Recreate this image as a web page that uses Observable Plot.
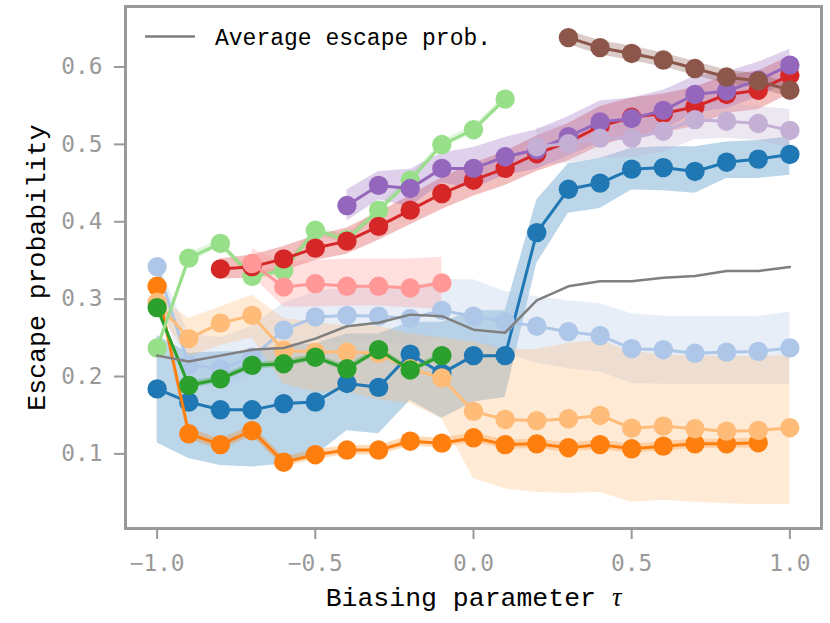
<!DOCTYPE html>
<html><head><meta charset="utf-8">
<script src="https://cdn.jsdelivr.net/npm/d3@7"></script>
<script src="https://cdn.jsdelivr.net/npm/@observablehq/plot@0.6"></script>
<style>
body{margin:0;background:#fff}
#chart{position:relative;width:830px;height:623px}
</style>
</head><body><div id="chart"></div><script>
// ---- data ----
const tau = [-1.0,-0.9,-0.8,-0.7,-0.6,-0.5,-0.4,-0.3,-0.2,-0.1,0.0,0.1,0.2,0.3,0.4,0.5,0.6,0.7,0.8,0.9,1.0];
const xTicks = [-1.0,-0.5,0.0,0.5,1.0];
const yTicks = [0.1,0.2,0.3,0.4,0.5,0.6];
const xLabel = "Biasing parameter τ";
const yLabel = "Escape probability";
const legendLabel = "Average escape prob.";

// tab:blue, starts at tau=-1.0
const blueMean = [0.184,0.167,0.157,0.157,0.165,0.167,0.191,0.186,0.229,0.204,0.227,0.227,0.386,0.442,0.450,0.468,0.470,0.465,0.477,0.481,0.487];
const blueLo   = [0.114,0.094,0.085,0.083,0.087,0.098,0.130,0.126,0.169,0.146,0.167,0.173,0.346,0.411,0.417,0.441,0.440,0.437,0.456,0.456,0.460];
const blueHi   = [0.253,0.230,0.232,0.232,0.240,0.242,0.255,0.255,0.270,0.270,0.285,0.285,0.428,0.475,0.482,0.495,0.497,0.497,0.503,0.505,0.510];
// light blue, starts at -1.0
const lightBlueMean = [0.342,0.215,0.210,0.225,0.260,0.277,0.279,0.278,0.275,0.2855,0.278,0.271,0.265,0.258,0.253,0.236,0.2347,0.230,0.2316,0.2325,0.237];
const lightBlueLo   = [0.310,0.190,0.185,0.200,0.225,0.245,0.245,0.245,0.240,0.250,0.245,0.230,0.217,0.210,0.206,0.191,0.190,0.190,0.190,0.190,0.190];
const lightBlueHi   = [0.350,0.255,0.250,0.265,0.295,0.310,0.315,0.315,0.315,0.325,0.325,0.310,0.303,0.298,0.294,0.281,0.278,0.278,0.278,0.278,0.283];
// orange, starts at -1.0 (ends 0.9)
const orangeMean = [0.3166,0.126,0.112,0.130,0.0893,0.099,0.105,0.105,0.1164,0.1139,0.1208,0.112,0.113,0.108,0.112,0.1066,0.110,0.113,0.113,0.1144];
const orangeLo   = [0.305,0.119,0.105,0.123,0.083,0.093,0.099,0.099,0.110,0.108,0.115,0.106,0.107,0.102,0.106,0.101,0.104,0.107,0.107,0.108];
const orangeHi   = [0.328,0.133,0.119,0.137,0.096,0.105,0.111,0.111,0.123,0.120,0.127,0.118,0.119,0.114,0.118,0.112,0.116,0.119,0.119,0.121];
// light orange, starts at -1.0
const lightOrangeMean = [0.296,0.249,0.269,0.279,0.2337,0.2316,0.2316,0.230,0.210,0.198,0.155,0.1445,0.143,0.1454,0.1497,0.1333,0.1359,0.1325,0.1294,0.1303,0.1338];
const lightOrangeLo   = [0.285,0.225,0.240,0.250,0.190,0.180,0.180,0.170,0.165,0.145,0.068,0.055,0.050,0.049,0.050,0.0375,0.040,0.0375,0.0355,0.0345,0.0345];
const lightOrangeHi   = [0.305,0.275,0.290,0.305,0.275,0.270,0.265,0.265,0.255,0.250,0.245,0.235,0.235,0.243,0.247,0.232,0.228,0.227,0.226,0.226,0.227];
// green, starts at -1.0 (ends -0.1)
const greenMean = [0.289,0.1885,0.197,0.2144,0.2165,0.225,0.210,0.2347,0.2085,0.227];
const greenLo   = [0.284,0.184,0.193,0.210,0.212,0.221,0.206,0.230,0.204,0.223];
const greenHi   = [0.294,0.193,0.201,0.218,0.221,0.229,0.214,0.239,0.212,0.231];
// light green, starts at -1.0 (ends 0.1)
const lightGreenMean = [0.2368,0.353,0.372,0.3295,0.337,0.389,0.377,0.415,0.4537,0.4998,0.519,0.5585];
const lightGreenLo   = [0.231,0.347,0.367,0.325,0.332,0.384,0.372,0.410,0.449,0.495,0.514,0.554];
const lightGreenHi   = [0.242,0.359,0.377,0.334,0.342,0.394,0.382,0.420,0.459,0.505,0.524,0.563];
// red, starts at -0.8
const redMean = [0.339,0.342,0.352,0.366,0.375,0.394,0.415,0.4365,0.4537,0.469,0.488,0.503,0.5235,0.535,0.540,0.5485,0.5645,0.570,0.5895];
const redLo   = [0.326,0.327,0.336,0.350,0.358,0.376,0.396,0.416,0.433,0.447,0.465,0.479,0.498,0.510,0.515,0.523,0.540,0.545,0.565];
const redHi   = [0.352,0.357,0.368,0.382,0.392,0.412,0.434,0.457,0.475,0.491,0.511,0.527,0.549,0.560,0.565,0.574,0.589,0.595,0.614];
// light red, starts at -0.7 (ends -0.1)
const lightRedMean = [0.346,0.3157,0.320,0.3166,0.3166,0.3144,0.3208];
const lightRedLo   = [0.330,0.290,0.290,0.291,0.291,0.289,0.287];
const lightRedHi   = [0.365,0.347,0.350,0.352,0.352,0.352,0.354];
// purple, starts at -0.4
const purpleMean = [0.421,0.447,0.443,0.469,0.469,0.484,0.493,0.510,0.529,0.5335,0.544,0.5645,0.569,0.583,0.6025];
const purpleLo   = [0.401,0.428,0.419,0.450,0.443,0.460,0.468,0.485,0.502,0.508,0.518,0.541,0.546,0.561,0.582];
const purpleHi   = [0.441,0.465,0.468,0.489,0.496,0.509,0.519,0.536,0.556,0.560,0.570,0.588,0.594,0.606,0.623];
// light purple, starts at 0.2
const lightPurpleMean = [0.497,0.501,0.508,0.508,0.517,0.532,0.530,0.527,0.518];
const lightPurpleLo   = [0.473,0.476,0.482,0.483,0.490,0.506,0.508,0.505,0.495];
const lightPurpleHi   = [0.521,0.526,0.534,0.533,0.543,0.557,0.552,0.549,0.545];
// brown, starts at 0.3
const brownMean = [0.638,0.625,0.6175,0.609,0.598,0.587,0.582,0.570];
const brownLo   = [0.629,0.616,0.608,0.600,0.589,0.578,0.573,0.561];
const brownHi   = [0.647,0.634,0.627,0.618,0.607,0.596,0.591,0.579];
// average over all series, starts at -1.0
const averageMean = [0.227,0.2195,0.227,0.2347,0.2368,0.249,0.265,0.2696,0.280,0.278,0.2605,0.2567,0.2985,0.3166,0.323,0.323,0.3278,0.330,0.3364,0.3364,0.3415];

// ---- build tables ----
function rows(start, mean, lo, hi) {
  const i0 = tau.indexOf(start);
  return mean.map((m, i) => ({tau: tau[i0 + i], m, lo: lo ? lo[i] : null, hi: hi ? hi[i] : null}));
}
const series = [
  {color:"#1f77b4", rows: rows(-1.0, blueMean, blueLo, blueHi)},
  {color:"#aec7e8", rows: rows(-1.0, lightBlueMean, lightBlueLo, lightBlueHi)},
  {color:"#ff7f0e", rows: rows(-1.0, orangeMean, orangeLo, orangeHi)},
  {color:"#ffbb78", rows: rows(-1.0, lightOrangeMean, lightOrangeLo, lightOrangeHi)},
  {color:"#2ca02c", rows: rows(-1.0, greenMean, greenLo, greenHi)},
  {color:"#98df8a", rows: rows(-1.0, lightGreenMean, lightGreenLo, lightGreenHi)},
  {color:"#d62728", rows: rows(-0.8, redMean, redLo, redHi)},
  {color:"#ff9896", rows: rows(-0.7, lightRedMean, lightRedLo, lightRedHi)},
  {color:"#9467bd", rows: rows(-0.4, purpleMean, purpleLo, purpleHi)},
  {color:"#c5b0d5", rows: rows(0.2, lightPurpleMean, lightPurpleLo, lightPurpleHi)},
  {color:"#8c564b", rows: rows(0.3, brownMean, brownLo, brownHi)}
];
const averageRows = rows(-1.0, averageMean);

const bandMarks = series.map(s => Plot.areaY(s.rows, {x:"tau", y1:"lo", y2:"hi", fill:s.color, fillOpacity:0.3}));
const seriesMarks = series.flatMap(s => [
  Plot.line(s.rows, {x:"tau", y:"m", stroke:s.color, strokeWidth:3}),
  Plot.dot(s.rows, {x:"tau", y:"m", r:9.7, fill:s.color, stroke:"none"})
]);

const tickFont = "DejaVu Sans Mono";
const labelFont = "Liberation Mono";

const svg = Plot.plot({
  width: 830, height: 623,
  marginLeft: 125, marginRight: 9, marginTop: 6, marginBottom: 95,
  style: {color:"#999", background:"#fff", overflow:"visible"},
  x: {domain:[-1.1, 1.1]},
  y: {domain:[0.0036, 0.6782]},
  marks: [
    ...bandMarks,
    ...seriesMarks,
    Plot.line(averageRows, {x:"tau", y:"m", stroke:"#7f7f7f", strokeWidth:2.5}),
    Plot.frame({stroke:"#999", strokeWidth:3}),
    Plot.axisX({ticks:xTicks, tickFormat:d3.format(".1f"), tickSize:11, tickPadding:15, strokeWidth:2, fontSize:22.8, fontFamily:tickFont, label:null}),
    Plot.axisY({ticks:yTicks, tickFormat:d3.format(".1f"), tickSize:11, tickPadding:12, strokeWidth:2, fontSize:22.8, fontFamily:tickFont, label:null}),
    Plot.text([xLabel], {text:d=>d, frameAnchor:"bottom", textAnchor:"middle", dy:77, fontSize:26.5, fontFamily:labelFont, fill:"#000"}),
    Plot.text([yLabel], {text:d=>d, frameAnchor:"left", textAnchor:"middle", rotate:-90, dx:-89, fontSize:26.5, fontFamily:labelFont, fill:"#000"})
  ]
});

// italic tau in the x label
d3.select(svg).selectAll("text").filter(function(){ return this.textContent === xLabel; }).each(function(){
  const t = d3.select(this);
  t.text(null);
  t.append("tspan").text("Biasing parameter ");
  t.append("tspan").attr("font-family","Liberation Serif").attr("font-style","italic").text("τ");
});

// legend (inside the axes, top-left)
const lg = d3.select(svg).append("g").attr("class","legend");
lg.append("line").attr("x1",145).attr("x2",195).attr("y1",36.5).attr("y2",36.5)
  .attr("stroke","#7f7f7f").attr("stroke-width",2.5);
lg.append("text").attr("x",215).attr("y",45).attr("fill","#000").attr("text-anchor","start")
  .attr("font-family",labelFont).attr("font-size",23).text(legendLabel);

document.getElementById("chart").appendChild(svg);
</script></body></html>
